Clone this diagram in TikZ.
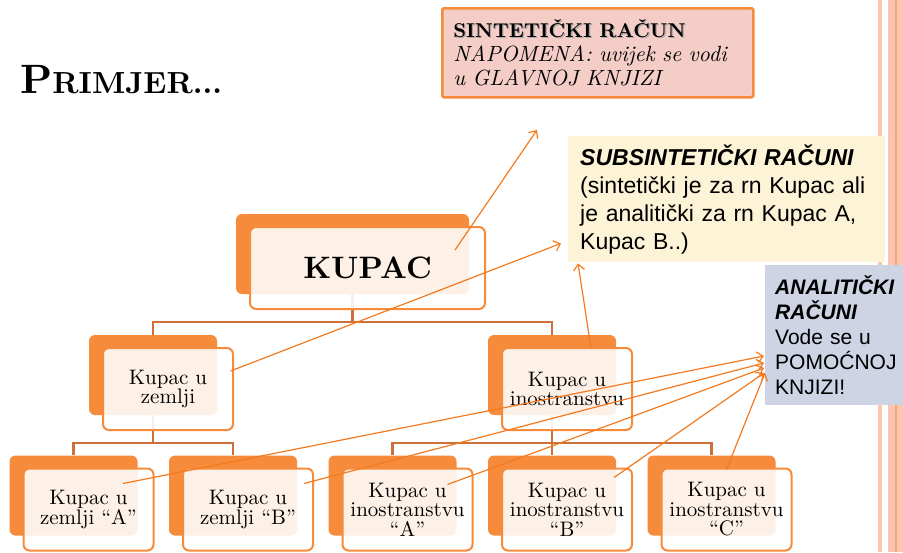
\documentclass[tikz,border=0pt]{standalone}
\usepackage{fontspec}
\setmainfont{lmroman10}[Extension=.otf, UprightFont=*-regular, BoldFont=*-bold, ItalicFont=*-italic, BoldItalicFont=*-bolditalic]
\newfontfamily\notefont{Liberation Sans}
\usepackage{tikz}
\usetikzlibrary{arrows.meta}
\usetikzlibrary{calc}

\definecolor{kupacorange}{RGB}{246,139,59}
\definecolor{linkbrown}{RGB}{205,112,58}
\definecolor{arrowcol}{RGB}{244,122,32}
\definecolor{sintfill}{RGB}{245,205,199}
\definecolor{subfill}{RGB}{253,243,215}
\definecolor{analfill}{RGB}{206,212,227}
\definecolor{stripe}{RGB}{251,197,176}
\definecolor{stripeline}{RGB}{245,162,126}

\newcommand{\senka}[1]{\makebox[0pt][l]{\hspace{1.3pt}\raisebox{-1.3pt}{\textcolor{black!35}{#1}}}{#1}}

\tikzset{
	back/.style={fill=kupacorange, rounded corners=6pt, inner sep=0pt, minimum width=128pt, minimum height=80pt},
	front/.style={draw=kupacorange, line width=2pt, fill=white, fill opacity=0.88, text opacity=1, rounded corners=6pt, inner sep=0pt, minimum width=130pt, minimum height=82pt, align=center, font=\fontsize{21}{19.5}\selectfont},
	link/.style={draw=linkbrown, line width=2.2pt},
	pointer/.style={draw=arrowcol, line width=1.2pt, -{Straight Barb[length=6pt,width=11pt]}},
	note/.style={anchor=north west, inner ysep=0pt, align=left}
}

\begin{document}
\begin{tikzpicture}[x=1pt,y=-1pt]
\useasboundingbox (0,0) rectangle (903,552);
% pruge desno
\fill[stripe] (878,0) rectangle (882,552);
\fill[stripe] (888,0) rectangle (903,552);
\fill[stripeline] (895,0) rectangle (897,552);

\node[anchor=base west, inner sep=0pt] (naslov) at (20,93) {\bfseries\fontsize{41}{41}\selectfont P\fontsize{30.5}{30.5}\selectfont RIMJER...};

% stražnji pravokutnici
\node[back, minimum width=233pt] (kupac-b) at (352.5,254) {};
\node[back] (zemlja-b) at (153,375) {};
\node[back] (ino-b) at (552,375) {};
\node[back] (zemljaA-b) at (73.5,495.5) {};
\node[back] (zemljaB-b) at (233,495.5) {};
\node[back] (inoA-b) at (392.5,495.5) {};
\node[back] (inoB-b) at (552,495.5) {};
\node[back] (inoC-b) at (711.5,495.5) {};

% veze
\draw[link] (kupac-b.south) -- ++(0,28) -| (zemlja-b.north);
\draw[link] (kupac-b.south) -- ++(0,28) -| (ino-b.north);
\draw[link] (zemlja-b.south) -- ++(0,28) -| (zemljaA-b.north);
\draw[link] (zemlja-b.south) -- ++(0,28) -| (zemljaB-b.north);
\draw[link] (ino-b.south) -- ++(0,28) -| (inoA-b.north);
\draw[link] (ino-b.south) -- (inoB-b.north);
\draw[link] (ino-b.south) -- ++(0,28) -| (inoC-b.north);

% prednji pravokutnici
\node[front, minimum width=235pt, font=\bfseries\fontsize{31}{31}\selectfont] (kupac) at ($(kupac-b)+(15,14)$) {KUPAC};
\node[front] (zemlja) at ($(zemlja-b)+(15,14)$) {Kupac u\\zemlji};
\node[front] (ino) at ($(ino-b)+(15,14)$) {Kupac u\\inostranstvu};
\node[front] (zemljaA) at ($(zemljaA-b)+(15,14)$) {Kupac u\\zemlji ``A''};
\node[front] (zemljaB) at ($(zemljaB-b)+(15,14)$) {Kupac u\\zemlji ``B''};
\node[front] (inoA) at ($(inoA-b)+(15,14)$) {Kupac u\\inostranstvu\\``A''};
\node[front] (inoB) at ($(inoB-b)+(15,14)$) {Kupac u\\inostranstvu\\``B''};
\node[front] (inoC) at ($(inoC-b)+(15,14)$) {Kupac u\\inostranstvu\\``C''};

% napomene
\node[note, fill=sintfill, draw=kupacorange, line width=2.5pt, rounded corners=1.5pt, inner xsep=11pt, text width=289pt, minimum height=89pt, font=\fontsize{22}{24}\selectfont] (sint) at (441,7)
	{\senka{\bfseries\fontsize{20}{24}\selectfont SINTETIČKI RAČUN}\\\itshape NAPOMENA: uvijek se vodi\\u GLAVNOJ KNJIZI};
\node[note, fill=subfill, inner xsep=12pt, text width=293pt, minimum height=126pt, font=\notefont\fontsize{23}{28}\selectfont] (subsint) at (568,136)
	{{\bfseries\itshape SUBSINTETIČKI RAČUNI}\\(sintetički je za rn Kupac ali\\je analitički za rn Kupac A,\\Kupac B..)};
\node[note, fill=analfill, inner xsep=10pt, text width=130pt, minimum height=140pt, font=\notefont\fontsize{21}{25}\selectfont] (anal) at (765,265)
	{{\bfseries\itshape ANALITIČKI\\RAČUNI}\\Vode se u\\POMOĆNOJ\\KNJIZI!};

% strelice
\coordinate (sint-cilj) at (537,130);
\draw[pointer] ($(kupac)+(87.5,-18)$) -- (sint-cilj);
\draw[pointer] ($(zemlja)+(62.5,-18)$) -- ($(subsint.south west)+(-7,-19)$);
\draw[pointer] ($(ino)+(24,-41)$) -- ($(subsint.south west)+(10,1)$);
\draw[pointer] ($(zemljaA)+(34.5,-26)$) -- ($(anal.north west)+(-1,91)$);
\draw[pointer] ($(zemljaB)+(56,-26)$) -- ($(anal.north west)+(-1,98)$);
\draw[pointer] ($(inoA)+(40,-25)$) -- ($(anal.north west)+(-1,103)$);
\draw[pointer] ($(inoB)+(47,-32)$) -- ($(anal.north west)+(-1,108)$);
\draw[pointer] ($(inoC)+(0,-40)$) -- ($(anal.north west)+(0,108)$);
\end{tikzpicture}
\end{document}
